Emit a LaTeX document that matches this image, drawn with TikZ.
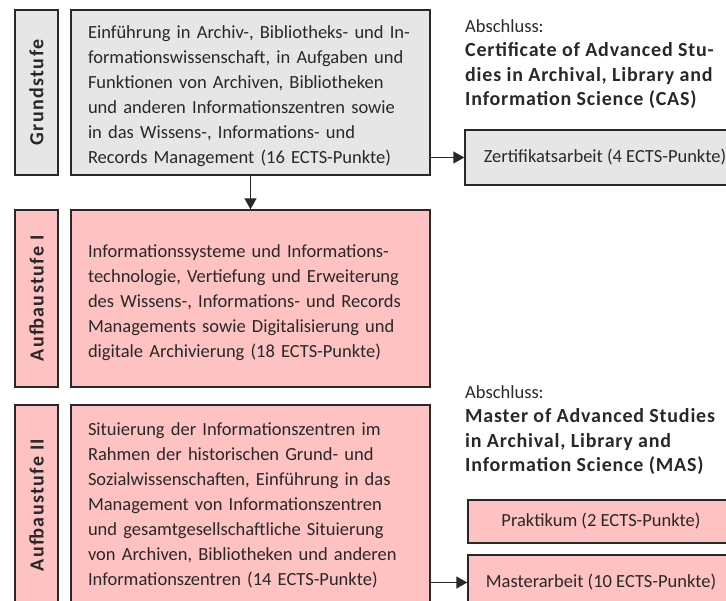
\documentclass[tikz,border=0pt]{standalone}
\usepackage{xcolor}
\usepackage{fontspec}
\setmainfont{Carlito}
\usepackage{tikz}
\usetikzlibrary{arrows.meta}

\definecolor{boxgray}{RGB}{230,230,230}
\definecolor{boxpink}{RGB}{255,194,194}
\definecolor{inkgray}{RGB}{40,40,40}

\newcommand{\topgap}{\rule{0pt}{21pt}}
\newcommand{\degreename}[1]{\textbf{\fontsize{20}{24.5}\selectfont\addfontfeature{LetterSpace=4}#1}}

\begin{document}
\begin{tikzpicture}[x=1pt,y=-1pt]
    % Define styles
    \tikzset{
        module/.style={rectangle, draw=inkgray, line width=1.4pt, text=inkgray, align=left,
            text width=325pt, inner xsep=17pt, font=\fontsize{18.5}{25}\selectfont},
        stagelabel/.style={rectangle, draw=inkgray, line width=1.4pt, text=inkgray, rotate=90,
            font=\fontsize{20}{25}\selectfont\bfseries\addfontfeature{LetterSpace=7}},
        extra/.style={rectangle, draw=inkgray, line width=1.4pt, text=inkgray,
            font=\fontsize{18.5}{25}\selectfont},
        degree/.style={inner sep=0pt, align=left, anchor=north west, text=inkgray,
            font=\fontsize{18.5}{24.5}\selectfont},
        arrow/.style={-{Triangle[length=11pt,width=12pt]}, line width=1.4pt, draw=inkgray}
    }

    \useasboundingbox (0,0) rectangle (726,601);
    \clip (0,0) rectangle (726,601);

    % Nodes
    \node[stagelabel, fill=boxgray, minimum width=165pt, minimum height=43pt] (grund_label) at (36.5,92.5) {Grundstufe};
    \node[module, fill=boxgray, minimum height=165pt] (grund) at (250.5,92.5) {\topgap Einführung in Archiv-, Bibliotheks- und In-\\formationswissenschaft, in Aufgaben und\\Funktionen von Archiven, Bibliotheken\\und anderen Informationszentren sowie\\in das Wissens-, Informations- und\\Records Management (16 ECTS-Punkte)};

    \node[stagelabel, fill=boxpink, minimum width=177pt, minimum height=43pt] (auf1_label) at (36.5,298.5) {Aufbaustufe I};
    \node[module, fill=boxpink, minimum height=177pt] (auf1) at (250.5,298.5) {\topgap Informationssysteme und Informations-\\technologie, Vertiefung und Erweiterung\\des Wissens-, Informations- und Records\\Managements sowie Digitalisierung und\\digitale Archivierung (18 ECTS-Punkte)};

    \node[stagelabel, fill=boxpink, minimum width=200pt, minimum height=43pt] (auf2_label) at (36.5,505) {Aufbaustufe II};
    \node[module, fill=boxpink, minimum height=200pt] (auf2) at (250.5,505) {Situierung der Informationszentren im\\Rahmen der historischen Grund- und\\Sozialwissenschaften, Einführung in das\\Management von Informationszentren\\und gesamtgesellschaftliche Situierung\\von Archiven, Bibliotheken und anderen\\Informationszentren (14 ECTS-Punkte)};

    \node[degree] (cas) at (465,19) {Abschluss:\\\degreename{Certificate of Advanced Stu-}\\\degreename{dies in Archival, Library and}\\\degreename{Information Science (CAS)}};
    \node[extra, fill=boxgray, minimum width=280pt, minimum height=55pt] (zert) at (605,157.5) {Zertifikatsarbeit (4 ECTS-Punkte)};

    \node[degree] (mas) at (465,385) {Abschluss:\\\degreename{Master of Advanced Studies}\\\degreename{in Archival, Library and}\\\degreename{Information Science (MAS)}};
    \node[extra, fill=boxpink, minimum width=266pt, minimum height=43pt] (praktikum) at (601,521.5) {Praktikum (2 ECTS-Punkte)};
    \node[extra, fill=boxpink, minimum width=266pt, minimum height=55pt] (master) at (601,582.5) {Masterarbeit (10 ECTS-Punkte)};

    % Arrows
    \draw[arrow] (grund.east |- zert.west) -- (zert.west);
    \draw[arrow] (grund) -- (auf1);
    \draw[arrow] (auf2.east |- master.west) -- (master.west);
\end{tikzpicture}
\end{document}
